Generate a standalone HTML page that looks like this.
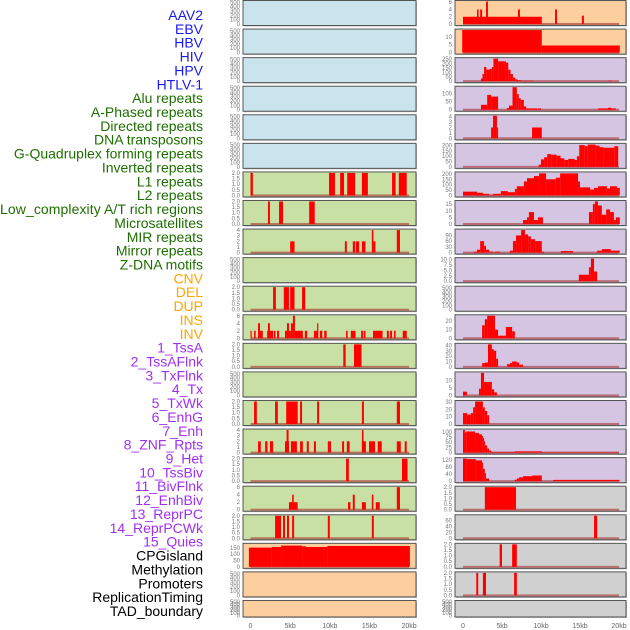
<!DOCTYPE html>
<html><head><meta charset="utf-8"><style>
html,body{margin:0;padding:0;background:#fff;}
svg{display:block;font-family:"Liberation Sans",sans-serif;}
</style></head><body>
<svg id="chart" width="630" height="630"></svg>
<script>
const NS="http://www.w3.org/2000/svg";
const labelNames=["AAV2","EBV","HBV","HIV","HPV","HTLV-1","Alu repeats","A-Phased repeats","Directed repeats","DNA transposons","G-Quadruplex forming repeats","Inverted repeats","L1 repeats","L2 repeats","Low_complexity A/T rich regions","Microsatellites","MIR repeats","Mirror repeats","Z-DNA motifs","CNV","DEL","DUP","INS","INV","1_TssA","2_TssAFlnk","3_TxFlnk","4_Tx","5_TxWk","6_EnhG","7_Enh","8_ZNF_Rpts","9_Het","10_TssBiv","11_BivFlnk","12_EnhBiv","13_ReprPC","14_ReprPCWk","15_Quies","CPGisland","Methylation","Promoters","ReplicationTiming","TAD_boundary"];
const labelGroups=[6,13,5,15,5];
const groupColors=["#1a1aee","#1e6e00","#ffa500","#a030f0","#000000"];
const xTicks=[0,5,10,15,20];
const xTickLabels=["0","5kb","10kb","15kb","20kb"];
const T500=[0,100,200,300,400,500];
const T2=[0,0.5,1,1.5,2];
// left column panels
const L0=[],L1=[],L2=[],L3=[],L4=[],L5=[];
const L6=[[0,0.3,2],[9.9,10.65,2],[11.3,11.8,2],[12.2,13.2,2],[14.05,14.8,2],[17.85,18.3,2],[18.7,19.7,2]];
const L7=[[2.2,2.45,2],[3.6,4.1,2],[7.4,8.1,2]];
const L8=[[5.0,5.55,2],[11.9,12.15,2],[12.9,13.2,2],[13.3,13.7,2],[14.05,14.5,2],[15.3,15.5,4],[15.5,15.75,2],[18.45,18.85,4]];
const L9=[];
const L10=[[2.85,3.2,2],[4.2,4.85,2],[5.0,5.55,2],[6.5,6.9,2]];
const L11=[[0,0.15,2],[0.45,0.65,2],[0.95,1.2,4],[1.2,1.55,2],[2.1,2.85,2],[2.2,2.45,4],[2.95,3.15,2],[3.35,3.6,2],[4.35,4.6,2],[4.6,4.85,4],[4.85,5.1,2],[5.1,5.35,4],[5.35,5.6,6],[5.6,6.6,2],[6.85,7.15,2],[8.0,8.25,2],[8.25,8.45,2],[8.4,8.55,4],[8.75,9.05,2],[9.3,9.6,2],[12.05,12.25,2],[12.65,13.25,2],[13.95,14.2,2],[14.3,14.5,2],[15.45,16.65,2],[17.2,17.45,2],[17.6,17.85,2],[18.1,18.3,2],[19.2,19.7,2]];
const L12=[[11.7,12.0,2],[13.05,14.0,2]];
const L13=[];
const L14=[[0.45,0.8,2],[3.1,3.45,2],[4.5,5.95,2],[6.25,6.5,2],[8.4,8.65,2],[14.05,14.3,2],[18.45,18.85,2]];
const L15=[[0.95,1.3,2],[1.85,2.15,2],[2.45,2.85,2],[4.35,4.85,2],[4.55,4.8,4],[5.1,5.85,2],[6.25,6.6,2],[7.1,7.35,2],[8.0,8.25,2],[9.75,10.15,2],[11.55,11.8,2],[12.15,12.5,2],[14.05,14.55,2],[14.05,14.25,4],[14.95,15.7,2],[16.05,16.55,2],[18.45,18.95,2],[19.45,19.7,2]];
const L16=[[12.05,12.4,2],[19.1,19.8,2]];
const L17=[[4.85,5.95,2],[5.25,5.45,4],[12.3,12.6,2],[12.9,13.15,4],[14.05,14.55,2],[15.3,15.5,4],[15.8,16.3,2],[18.45,18.85,6]];
const L18=[[3.1,3.85,2],[4.1,4.35,2],[4.6,4.85,2],[5.25,5.5,2],[9.75,10.0,2],[15.3,15.55,2]];
const L19=[[-0.2,2.7,152],[2.7,3.85,157],[3.85,6.5,168],[6.5,7.0,162],[7.0,9.7,157],[9.7,20.1,165]];
const L20=[],L21=[];
// right column panels
const R0=[[0,10.1,2],[1.8,2.0,4],[2.2,2.45,4],[2.95,3.2,6.2],[7.05,7.3,4],[11.8,12.05,4],[15.25,15.5,2.3]];
const R1=[[-0.1,10.1,14.3],[10.1,20.1,4.5]];
const R2=[[2.3,2.5,30],[2.5,2.7,80],[2.7,3.0,160],[3.0,3.4,130],[3.4,3.7,140],[3.7,3.9,160],[3.9,4.5,255],[4.5,5.5,225],[5.5,5.8,210],[5.8,6.1,130],[6.1,6.4,80],[6.4,6.7,40],[6.7,7.0,20],[7.0,7.5,10],[7.5,9.0,5],[18.6,19.1,5]];
const R3=[[2.3,3.1,30],[3.1,3.6,90],[3.6,4.5,80],[5.65,5.9,10],[5.9,6.35,25],[6.35,6.9,137],[6.9,7.15,95],[7.15,7.4,70],[7.4,7.8,60],[7.8,8.1,20],[8.1,9.5,8],[9.6,10.0,8],[17.3,19.6,8],[18.6,19.0,12]];
const R4=[[3.6,3.85,2],[3.85,4.35,4.17],[4.35,4.5,2],[8.85,10.1,2]];
const R5=[[9.7,10.0,20],[10.0,10.4,70],[10.4,10.8,90],[10.8,11.3,120],[11.3,12.0,115],[12.0,12.5,105],[12.5,13.0,80],[13.0,13.5,65],[13.5,14.3,75],[14.3,14.6,65],[14.6,14.9,100],[14.9,15.6,205],[15.6,16.0,195],[16.0,17.0,210],[17.0,17.5,200],[17.5,18.0,185],[18.0,19.4,180],[19.4,19.9,195]];
const R6=[[0,1.8,35],[1.8,2.55,25],[2.55,3.35,15],[3.35,3.85,5],[3.85,4.85,15],[4.85,5.75,40],[5.75,6.65,30],[6.65,6.9,60],[6.9,7.8,85],[7.8,8.2,130],[8.2,9.1,160],[9.1,9.75,180],[9.75,10.65,205],[10.65,11.9,150],[11.9,12.45,165],[12.45,14.75,205],[14.75,15.0,130],[15.0,16.3,75],[16.3,16.8,55],[16.8,17.3,70],[17.3,18.45,85],[18.45,18.85,65],[18.85,19.75,85],[19.75,20.1,70]];
const R7=[[7.7,8.2,3],[8.2,8.45,5],[8.45,9.1,9],[9.1,9.6,3],[9.6,10.25,5],[16.15,16.65,9],[16.65,16.9,15],[16.9,17.3,17],[17.3,17.8,14],[17.8,18.35,7],[18.35,18.85,11],[18.85,19.35,9],[19.35,19.6,3],[19.6,20.1,5]];
const R8=[[1.4,1.8,5],[1.8,2.2,15],[2.2,2.7,60],[2.7,2.95,35],[2.95,3.35,15],[3.35,3.85,5],[4.1,4.75,5],[6.0,6.4,10],[6.4,6.8,60],[6.8,7.45,90],[7.45,7.95,118],[7.95,8.35,95],[8.35,8.7,85],[8.7,9.25,70],[9.25,10.1,60],[10.1,10.4,5],[12.55,14.1,8],[17.2,17.8,10],[17.8,18.95,18],[18.95,20.1,10]];
const R9=[[14.85,16.15,3],[16.15,16.4,6.5],[16.4,16.8,10.5],[16.8,17.2,4.5]];
const R10=[];
const R11=[[2.45,2.8,15],[2.8,3.1,22],[3.1,4.1,26],[4.1,4.5,10],[4.5,5.5,3],[5.5,6.3,13],[6.3,6.65,8]];
const R12=[[2.45,2.8,7],[2.8,3.2,8],[3.2,3.7,42],[3.7,3.95,33],[3.95,4.25,30],[4.25,4.5,15],[5.65,6.0,5],[6.0,6.3,7],[6.3,6.9,10],[6.9,7.2,8],[7.2,7.7,4]];
const R13=[[0,0.5,2.5],[2.05,2.3,4.5],[2.3,2.7,15],[2.7,3.2,9],[3.2,3.7,9],[3.7,4.0,4],[4.0,4.35,2]];
const R14=[[0,0.5,15],[0.5,1.0,13],[1.0,1.3,15],[1.3,1.55,23],[1.55,2.55,31],[2.55,2.8,23],[2.8,3.1,18],[3.1,3.35,12]];
const R15=[[0,0.25,109],[0.25,0.4,98],[0.4,1.55,102],[1.55,2.05,95],[2.05,2.45,88],[2.45,2.55,80],[2.55,2.7,70],[2.7,2.8,55],[2.8,3.1,35],[3.1,3.35,20],[3.35,3.6,10],[3.6,3.7,5],[3.7,6.65,3],[6.65,10.1,6],[10.1,20,2]];
const R16=[[0,0.5,128],[0.5,1.65,125],[1.65,2.45,118],[2.45,2.55,105],[2.55,2.8,70],[2.8,2.95,45],[2.95,3.35,15],[6.65,6.9,8],[6.9,7.2,15],[7.2,7.7,22],[7.7,8.85,28],[8.85,10.1,32],[11.55,20.1,7]];
const R17=[[2.8,6.8,2]];
const R18=[[16.8,17.2,77]];
const R19=[[4.7,5.0,2],[6.3,6.9,2]];
const R20=[[1.7,1.95,2],[2.55,2.95,2],[6.55,6.9,2]];
const R21=[];
const leftData=[L0,L1,L2,L3,L4,L5,L6,L7,L8,L9,L10,L11,L12,L13,L14,L15,L16,L17,L18,L19,L20,L21];
const rightData=[R0,R1,R2,R3,R4,R5,R6,R7,R8,R9,R10,R11,R12,R13,R14,R15,R16,R17,R18,R19,R20,R21];
const leftMax=[520,520,520,520,520,520,2,2,4,520,2,6,2,520,2,4,2,6,2,178,520,520];
const rightMax=[6.2,14.3,255,137,4.17,212,209,17,118,10.5,520,26,42,15,31,109,128,2,77,2,2,520];
const leftTicks=[T500,T500,T500,T500,T500,T500,T2,T2,[0,1,2,3,4],T500,T2,[0,2,4,6],T2,T500,T2,[0,1,2,3,4],T2,[0,2,4,6],T2,[0,50,100,150],T500,T500];
const rightTicks=[[0,2,4,6],[0,5,10],[0,50,100,150,200,250],[0,50,100],[0,1,2,3,4],[0,50,100,150,200],[0,50,100,150,200],[0,5,10,15],[0,30,60,90],[0,2.5,5,7.5,10],T500,[0,10,20],[0,10,20,30,40],[0,5,10],[0,10,20,30],[0,25,50,75,100],[0,40,80,120],T2,[0,20,40,60],T2,T2,T500];
const leftBg=["#c9e4ec","#c9e4ec","#c9e4ec","#c9e4ec","#c9e4ec","#c9e4ec","#c8e0a4","#c8e0a4","#c8e0a4","#c8e0a4","#c8e0a4","#c8e0a4","#c8e0a4","#c8e0a4","#c8e0a4","#c8e0a4","#c8e0a4","#c8e0a4","#c8e0a4","#fecf9e","#fecf9e","#fecf9e"];
const rightBg=["#fecf9e","#fecf9e","#d5c5e2","#d5c5e2","#d5c5e2","#d5c5e2","#d5c5e2","#d5c5e2","#d5c5e2","#d5c5e2","#d5c5e2","#d5c5e2","#d5c5e2","#d5c5e2","#d5c5e2","#d5c5e2","#d5c5e2","#d0d0d0","#d0d0d0","#d0d0d0","#d0d0d0","#d0d0d0"];

const svg=document.getElementById('chart');
function mk(tag,attrs,parent){const e=document.createElementNS(NS,tag);for(const k in attrs)e.setAttribute(k,attrs[k]);(parent||svg).appendChild(e);return e;}

let gi=0,cnt=0;
labelNames.forEach((n,i)=>{
  if(cnt>=labelGroups[gi]){gi++;cnt=0;}cnt++;
  const t=mk('text',{x:203,y:(20+i*13.86).toFixed(1),'text-anchor':'end','font-size':'14',fill:groupColors[gi]});
  
  
  if(n.length>28)t.setAttribute('textLength','203');
  t.textContent=n;
});

const cols=[{x0:243,x1:416,z:250.5,k:7.93,data:leftData,max:leftMax,ticks:leftTicks,bg:leftBg,name:'left'},
            {x0:455,x1:626,z:463,k:7.8,data:rightData,max:rightMax,ticks:rightTicks,bg:rightBg,name:'right'}];
function fmt(v,ticks){const dec=ticks.some(t=>t%1!==0)?1:0;return (ticks===T2||dec)?v.toFixed(1):String(v);}
cols.forEach(c=>{
  const xs=kb=>c.z+kb*c.k;
  for(let r=0;r<22;r++){
    const top=r*28.57+0.5;
    const H=(r===21)?16.5:25;
    const ys=v=>top+H-1.5-(v/c.max[r])*(H-2.5);
    const g=mk('g',{});
    
    
    mk('rect',{x:c.x0+1,y:top+1,width:c.x1-c.x0,height:H,fill:'#bbb'},g);
    const bg=mk('rect',{x:c.x0,y:top,width:c.x1-c.x0,height:H,fill:c.bg[r],stroke:'#555','stroke-width':1},g);
    
    
    const d=c.data[r];
    if(d.length){
      mk('rect',{x:xs(0),y:ys(0)-1,width:xs(20)-xs(0),height:2,fill:'#a83030','fill-opacity':0.6},g);
    }
    d.forEach(s=>{
      const b=mk('rect',{x:xs(s[0]),y:ys(s[2]),width:Math.max(1,xs(s[1])-xs(s[0])),height:ys(0)-ys(s[2]),fill:'#ff0000'},g);
      
      
    });
    c.ticks[r].forEach(tv=>{
      const t=mk('text',{x:c.x0-3,y:(ys(tv)+2).toFixed(1),'text-anchor':'end','font-size':'6',fill:'#777'},g);
      
      
      t.textContent=fmt(tv,c.ticks[r]);
    });
  }
  xTicks.forEach((v,i)=>{
    const t=mk('text',{x:xs(v),y:628,'text-anchor':'middle','font-size':'7',fill:'#666'});
    
    
    t.textContent=xTickLabels[i];
  });
});
</script>
</body></html>
